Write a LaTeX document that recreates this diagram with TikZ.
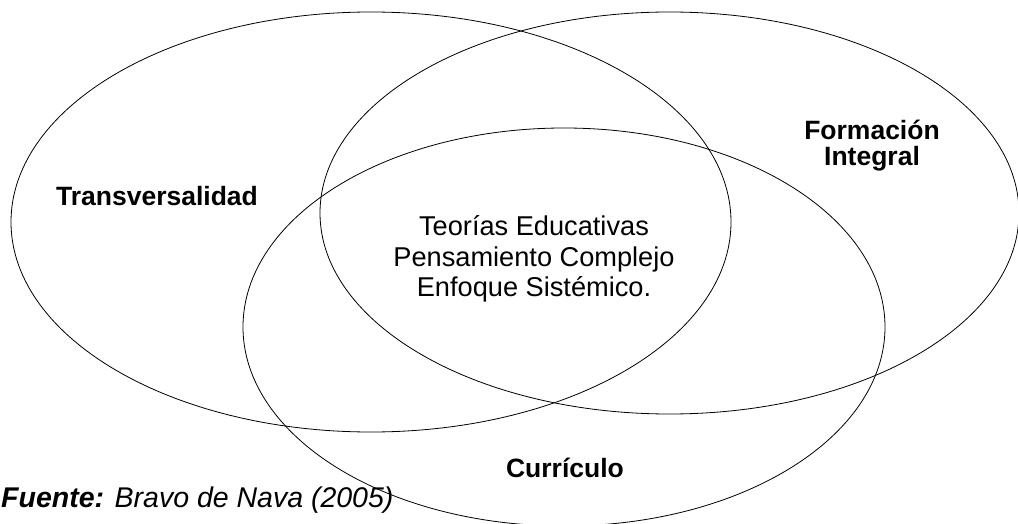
\documentclass[tikz,border=0pt]{standalone}
\usepackage{fontspec}
\setmainfont{Liberation Sans}
\begin{document}
\begin{tikzpicture}[x=1pt,y=-1pt,
  setring/.style={draw=black,line width=0.8pt},
  boldlbl/.style={font=\fontsize{26.5}{30}\selectfont\bfseries,anchor=base,inner sep=0pt},
  midlbl/.style={font=\fontsize{27.2}{30}\selectfont,anchor=base,inner sep=0pt},
  srclbl/.style={font=\fontsize{28.5}{32}\selectfont\itshape,anchor=base west,inner sep=0pt}]
\useasboundingbox (0,0) rectangle (1018,524);
\draw[setring] (371,222) ellipse [x radius=360, y radius=210];
\draw[setring] (669.5,213) ellipse [x radius=349.5, y radius=201];
\draw[setring] (564,327) ellipse [x radius=321, y radius=199];
\node[boldlbl] (trans) at (157,205) {Transversalidad};
\node[boldlbl] (form1) at (872,140) {Formación};
\node[boldlbl] (form2) at (872,166) {Integral};
\node[boldlbl] (curr) at (565,477) {Currículo};
\node[midlbl] (t1) at (534,236) {Teorías Educativas};
\node[midlbl] (t2) at (534,266) {Pensamiento Complejo};
\node[midlbl] (t3) at (534,296) {Enfoque Sistémico.};
\node[srclbl] (src) at (1,507) {{\bfseries Fuente:} Bravo de Nava (2005)};
\end{tikzpicture}
\end{document}
